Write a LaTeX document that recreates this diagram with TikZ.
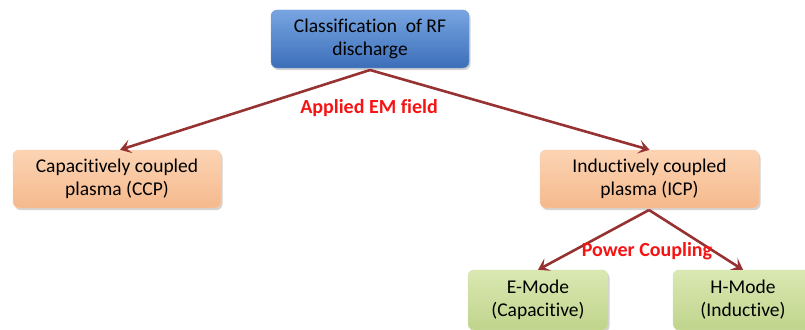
\documentclass[tikz,border=0pt]{standalone}
\usepackage{fontspec}
\setmainfont{Carlito}[Ligatures=NoCommon]
\usetikzlibrary{positioning,shadows,arrows.meta}
\definecolor{arrowred}{RGB}{150,50,50}
\definecolor{labelred}{RGB}{245,20,20}
\definecolor{bluetop}{RGB}{120,165,225}
\definecolor{bluebot}{RGB}{60,110,185}
\definecolor{orangetop}{RGB}{252,212,180}
\definecolor{orangebot}{RGB}{245,185,140}
\definecolor{greentop}{RGB}{218,232,178}
\definecolor{greenbot}{RGB}{192,212,140}

\begin{document}
\begin{tikzpicture}[x=1pt, y=-1pt,
		box/.style={rounded corners=6pt, align=center, font=\fontsize{19.5}{23}\selectfont,
			inner sep=0pt, drop shadow={opacity=0.35, shadow xshift=1.5pt, shadow yshift=-2pt}},
		bluebox/.style={box, top color=bluetop, bottom color=bluebot, draw=bluebot!70!white, minimum width=198pt, minimum height=58pt},
		orangebox/.style={box, top color=orangetop, bottom color=orangebot, draw=orangebot!70!white, minimum width=208pt, minimum height=58pt},
		greenbox/.style={box, top color=greentop, bottom color=greenbot, draw=greenbot!70!white, minimum width=140pt, minimum height=60pt},
		link/.style={draw=arrowred, line width=2.6pt, -{Stealth[length=11pt, width=14pt, inset=5pt]}},
		tag/.style={text=labelred, font=\fontsize{20}{23}\selectfont\bfseries}]
			\useasboundingbox (0,0) rectangle (805,329);
			\clip (0,0) rectangle (805,329);
			\node [bluebox] (rf) at (370,39) {Classification\ \ of RF\\discharge};
			\node [orangebox] (ccp) at (117,179) {Capacitively coupled\\plasma (CCP)};
			\node [orangebox, minimum width=219pt] (icp) at (649.5,179) {Inductively coupled\\plasma (ICP)};
			\node [greenbox] (emode) at (538,300) {E-Mode\\(Capacitive)};
			\node [greenbox] (hmode) at (743,300) {H-Mode\\(Inductive)};
			\coordinate (rfb) at (370,70);
			\coordinate (icpb) at (649,210);
			\draw [link] (rfb) -- (ccp.north -| 120,0);
			\draw [link] (rfb) -- (icp.north);
			\draw [link] (icpb) -- (emode.north);
			\draw [link] (icpb) -- (hmode.north);
			\node [tag] (emf) at (369,108) {Applied EM field};
			\node [tag] (power) at (647,251) {Power Coupling};
		\end{tikzpicture}
\end{document}
